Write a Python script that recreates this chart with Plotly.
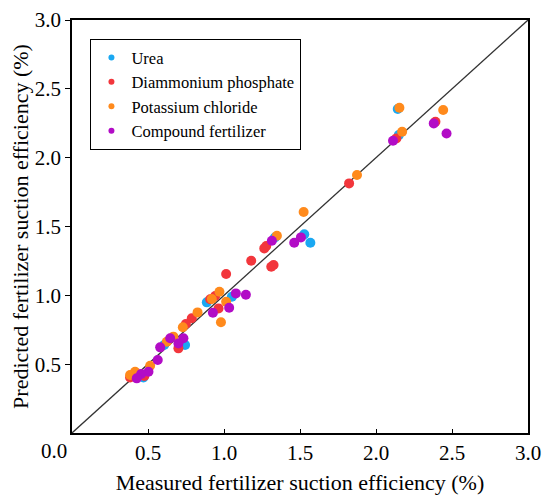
import plotly.graph_objects as go

# measured (x) vs predicted (y) suction efficiency, %
urea_x = [2.143, 2.150, 1.528, 1.568, 1.335, 1.052, 0.887, 0.744, 0.606, 0.470]
urea_y = [2.353, 2.164, 1.443, 1.382, 1.420, 0.990, 0.949, 0.639, 0.639, 0.404]

dap_x = [2.391, 2.134, 1.823, 1.278, 1.265, 1.179, 1.326, 1.311, 1.014, 0.942,
         0.909, 0.964, 0.788, 0.749, 0.700, 0.476, 0.382]
dap_y = [2.261, 2.140, 1.813, 1.358, 1.341, 1.251, 1.220, 1.208, 1.155, 0.995,
         0.971, 0.905, 0.833, 0.792, 0.615, 0.414, 0.404]

kcl_x = [2.154, 2.442, 2.172, 1.875, 1.524, 1.348, 0.970, 0.920, 1.014, 0.980,
         0.826, 0.729, 0.667, 0.624, 0.514, 0.415, 0.382]
kcl_y = [2.362, 2.346, 2.188, 1.874, 1.605, 1.433, 1.026, 0.973, 0.954, 0.804,
         0.876, 0.768, 0.700, 0.663, 0.489, 0.445, 0.421]

comp_x = [2.380, 2.464, 2.112, 1.315, 1.506, 1.462, 1.078, 1.144, 1.034, 0.927,
          0.733, 0.646, 0.700, 0.580, 0.564, 0.503, 0.455, 0.426]
comp_y = [2.249, 2.176, 2.123, 1.397, 1.421, 1.382, 1.014, 1.004, 0.910, 0.874,
          0.688, 0.688, 0.651, 0.622, 0.530, 0.445, 0.428, 0.397]

series_names = ["Urea", "Diammonium phosphate", "Potassium chloride",
                "Compound fertilizer"]
series_x = [urea_x, dap_x, kcl_x, comp_x]
series_y = [urea_y, dap_y, kcl_y, comp_y]
colors = ["#1AA8F2", "#F2363C", "#FF8A1C", "#B20CC6"]

tick_vals = [0.5, 1.0, 1.5, 2.0, 2.5, 3.0]
tick_text = ["0.5", "1.0", "1.5", "2.0", "2.5", "3.0"]

FONT = "Liberation Serif"

fig = go.Figure()

# 1:1 line
fig.add_trace(go.Scatter(x=[0, 3], y=[0, 3], mode="lines",
                         line=dict(color="#333333", width=1.3),
                         showlegend=False, hoverinfo="skip"))

for name, xs, ys, col in zip(series_names, series_x, series_y, colors):
    fig.add_trace(go.Scatter(x=xs, y=ys, mode="markers", name=name,
                             marker=dict(color=col, size=10, line=dict(width=0)),
                             showlegend=False))

# legend-only entries so the legend dots stay small
for name, col in zip(series_names, colors):
    fig.add_trace(go.Scatter(x=[None], y=[None], mode="markers", name=name,
                             marker=dict(color=col, size=6)))

# page has an 8px body margin, so the figure is a bit smaller than the window
fig.update_layout(
    width=542, height=494,
    margin=dict(l=64, r=22, t=12, b=69),
    paper_bgcolor="white", plot_bgcolor="white",
    font=dict(family=FONT, size=21, color="black"),
    legend=dict(x=0.04, y=0.954, xanchor="left", yanchor="top",
                bordercolor="black", borderwidth=1.2, bgcolor="white",
                font=dict(family=FONT, size=16.5, color="black"),
                tracegroupgap=0, itemwidth=30, itemsizing="trace"),
)

fig.update_xaxes(range=[0, 3], tickvals=tick_vals, ticktext=tick_text,
                 ticks="inside", ticklen=4, tickwidth=1.2, tickcolor="black",
                 showgrid=False, zeroline=False, automargin=False,
                 showline=True, linecolor="black", linewidth=1.8, mirror=True,
                 tickfont=dict(family=FONT, size=21),
                 title=dict(text="Measured fertilizer suction efficiency (%)",
                            font=dict(family=FONT, size=22), standoff=11))
fig.update_yaxes(range=[0, 3], tickvals=tick_vals, ticktext=tick_text,
                 ticks="outside", ticklen=5, tickwidth=1.2, tickcolor="black",
                 showgrid=False, zeroline=False, automargin=False,
                 showline=True, linecolor="black", linewidth=1.8, mirror=True,
                 tickfont=dict(family=FONT, size=21),
                 title=dict(text="Predicted fertilizer suction efficiency (%)",
                            font=dict(family=FONT, size=22), standoff=4))

# shared origin label sits left of the corner
fig.add_annotation(x=0, y=0, xref="x", yref="y", text="0.0",
                   showarrow=False, xanchor="right", yanchor="top",
                   xshift=-3, yshift=-4, font=dict(family=FONT, size=21))

fig.write_html("out.html")
